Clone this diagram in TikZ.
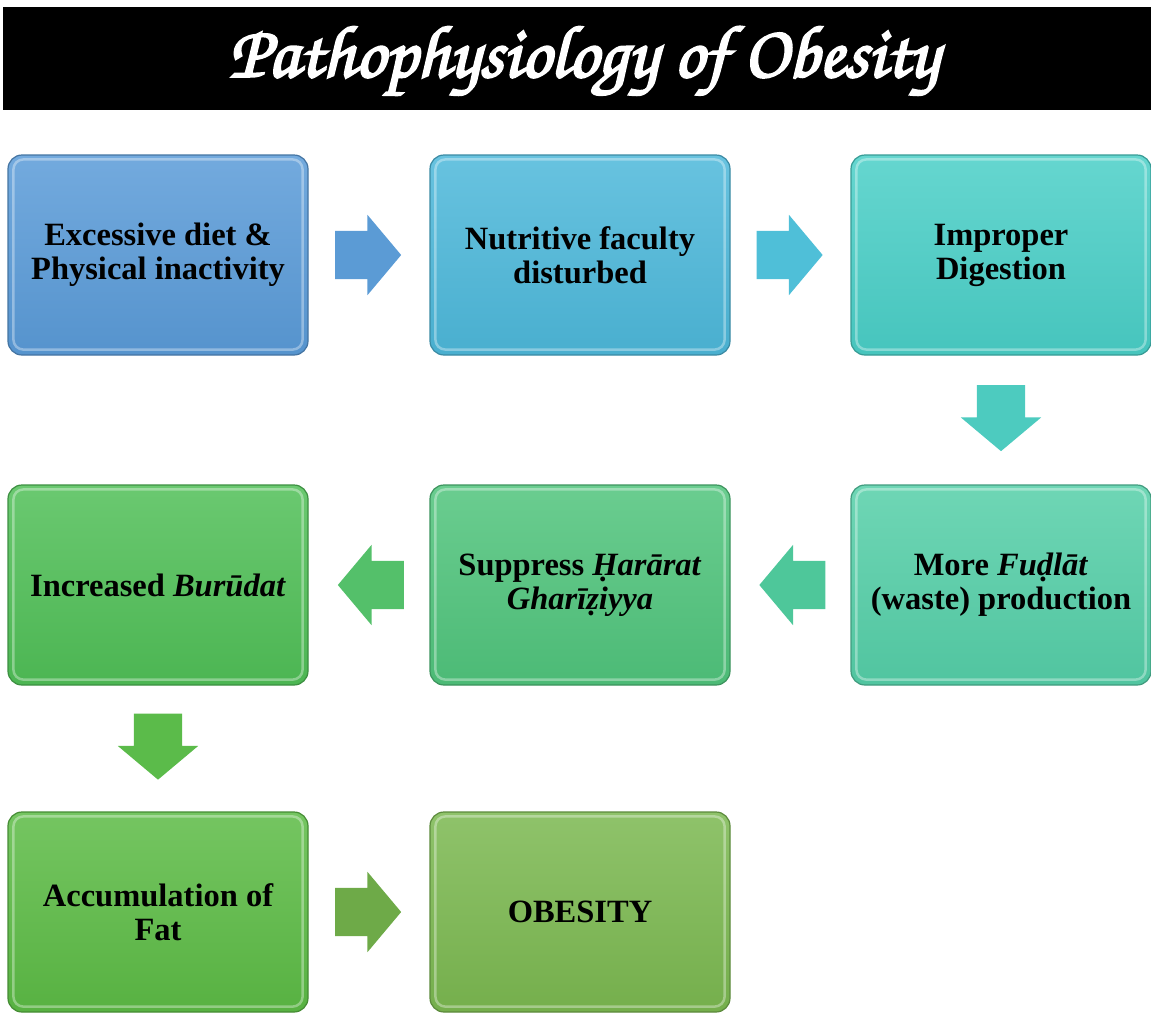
\documentclass[tikz,border=0pt]{standalone}
\usepackage{fontspec}
\setmainfont{Liberation Serif}
\usepackage{tikz}
\usetikzlibrary{shapes.arrows,calc}

\definecolor{boxA}{HTML}{5A9BD8}
\definecolor{boxB}{HTML}{4DB8DA}
\definecolor{boxC}{HTML}{4ACFC7}
\definecolor{boxD}{HTML}{55CFA8}
\definecolor{boxE}{HTML}{50C47C}
\definecolor{boxF}{HTML}{50BF57}
\definecolor{boxG}{HTML}{5CBB45}
\definecolor{boxH}{HTML}{7BB850}
\definecolor{arrA}{HTML}{5B9BD5}
\definecolor{arrB}{HTML}{4FBFD8}
\definecolor{arrC}{HTML}{4DCBBF}
\definecolor{arrD}{HTML}{4EC79A}
\definecolor{arrE}{HTML}{54C06A}
\definecolor{arrF}{HTML}{5BBB4A}
\definecolor{arrG}{HTML}{6EAA48}

% faux bold for the script title
\newcommand{\fatscript}[1]{\special{pdf:literal 2 Tr 2.2 w 1 1 1 RG}#1\special{pdf:literal 0 Tr}}

\tikzset{
  stage/.style={draw=#1!75!black, line width=1.2pt, rounded corners=14pt,
    minimum width=300pt, minimum height=200pt, inner sep=0pt,
    top color=#1!85!white, bottom color=#1!95!black, align=center,
    font=\bfseries\fontsize{32.5}{34}\selectfont},
  flow/.style={single arrow, draw=none, fill=#1, inner xsep=0pt, inner ysep=24pt,
    minimum height=66pt, single arrow head extend=16pt,
    single arrow tip angle=100},
  rflow/.style={flow=#1, xshift=-11pt},
  lflow/.style={flow=#1, shape border rotate=180, xshift=12pt},
  dflow/.style={flow=#1, inner xsep=24pt, inner ysep=0pt,
    shape border rotate=270, yshift=12pt},
  gloss/.style={white, opacity=0.35, line width=2.5pt, rounded corners=10pt}
}

\begin{document}
\begin{tikzpicture}[x=1pt, y=-1pt]
  \useasboundingbox (0,0) rectangle (1151,1015);
  % title bar
  \fill[black] (3,7) rectangle (1151,110);
  \node[text=white, font=\fontencoding{OT1}\fontfamily{pzc}\fontseries{mb}\fontshape{it}\selectfont\fontsize{74}{78}\selectfont] (title) at (584,62) {\fatscript{Pathophysiology of Obesity}};

  % stages
  \node[stage=boxA] (diet) at (158,255) {Excessive diet \&\\Physical inactivity};
  \node[stage=boxB] (nutr) at (580,255) {Nutritive faculty\\disturbed};
  \node[stage=boxC] (dige) at (1001,255) {Improper\\Digestion};
  \node[stage=boxD] (fudl) at (1001,585) {More \textit{Fuḍlāt}\\(waste) production};
  \node[stage=boxE] (hara) at (580,585) {Suppress \textit{Ḥarārat}\\\textit{Gharīẓiyya}};
  \node[stage=boxF] (buru) at (158,585) {Increased \textit{Burūdat}};
  \node[stage=boxG] (accu) at (158,912) {Accumulation of\\Fat};
  \node[stage=boxH] (obes) at (580,912) {OBESITY};

  % highlights
  \foreach \n in {diet,nutr,dige,fudl,hara,buru,accu,obes}
    \draw[gloss] ([shift={(6,5)}]\n.north west) rectangle ([shift={(-6,-6)}]\n.south east);

  % block arrows
  \node[rflow=arrA] (a1) at ($(diet.east)!0.5!(nutr.west)$) {};
  \node[rflow=arrB] (a2) at ($(nutr.east)!0.5!(dige.west)$) {};
  \node[dflow=arrC] (a3) at ($(dige.south)!0.5!(fudl.north)$) {};
  \node[lflow=arrD] (a4) at ($(fudl.west)!0.5!(hara.east)$) {};
  \node[lflow=arrE] (a5) at ($(hara.west)!0.5!(buru.east)$) {};
  \node[dflow=arrF] (a6) at ($(buru.south)!0.5!(accu.north)$) {};
  \node[rflow=arrG] (a7) at ($(accu.east)!0.5!(obes.west)$) {};
\end{tikzpicture}
\end{document}
